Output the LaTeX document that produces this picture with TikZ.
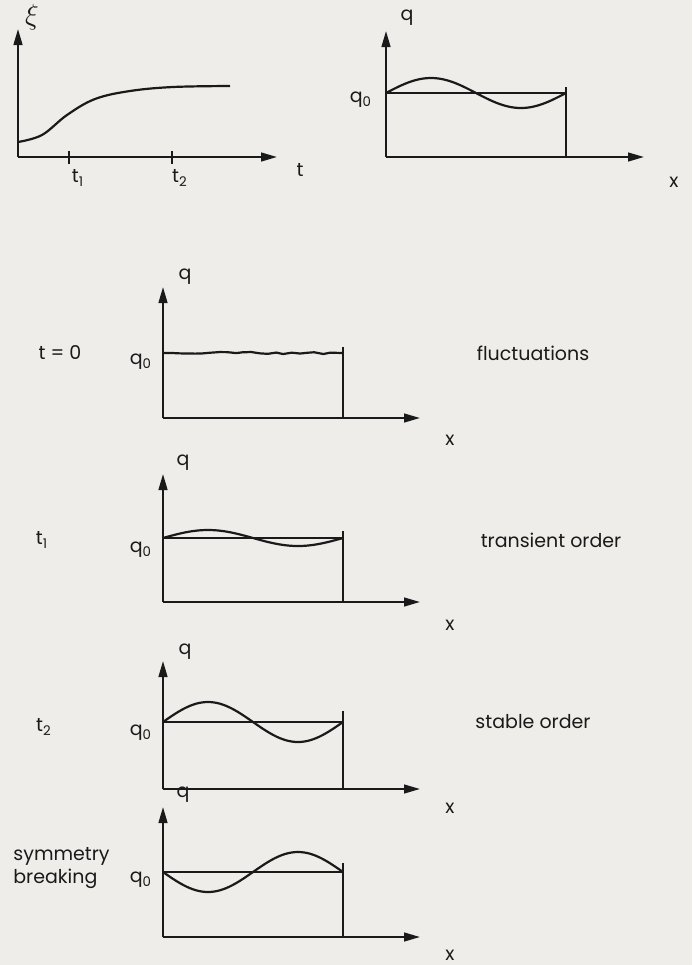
\documentclass[tikz,border=0pt]{standalone}
\usepackage{fontspec}
\setmainfont{Poppins}
\usetikzlibrary{arrows.meta,decorations.pathmorphing}
\definecolor{ink}{HTML}{1A1A1A}
\definecolor{paper}{HTML}{EFEDEA}

\begin{document}
\begin{tikzpicture}[
  x=0.5pt, y=-0.5pt,
  font=\fontsize{9.5}{11.5}\selectfont, >={Triangle[length=8pt,width=4.4pt]},
  axis/.style={->, draw=ink, line width=1pt},
  frame/.style={draw=ink, line width=0.7pt},
  wave/.style={draw=ink, line width=1.1pt},
  lbl/.style={text=ink, inner sep=0pt},
  tag/.style={text=ink, inner sep=0pt, align=left, anchor=west},
]
\fill[paper] (0,0) rectangle (692,965);
\useasboundingbox (0,0) rectangle (692,965);

% --- order parameter over time ---
\coordinate (o1) at (18,157);
\coordinate (xitop) at (18,29);
\coordinate (tend) at (277,157);
\draw[axis] (o1) -- (xitop);
\draw[axis] (o1) -- (tend);
\draw[draw=ink, line width=1.3pt] (69,151) -- (69,164);
\draw[draw=ink, line width=1.3pt] (172,151) -- (172,164);
\draw[wave] plot[smooth, tension=0.6] coordinates
  {(18,142) (42,135) (67,115) (95,99) (130,91) (173,87) (230,86)};
\node[lbl] (xi) at (32,17) {\Large$\xi$};
\node[lbl] (t1) at (78,178) {t\textsubscript{1}};
\node[lbl] (t2) at (180,178) {t\textsubscript{2}};
\node[lbl] (t) at (300,170) {t};

% --- mode profile q(x) ---
\coordinate (o2) at (386,157);
\coordinate (q2top) at (386,31);
\coordinate (x2end) at (644,157);
\draw[axis] (o2) -- (q2top);
\draw[axis] (o2) -- (x2end);
\draw[frame] (386,93) -- (566,93);
\draw[frame] (566,87) -- (566,157);
\draw[wave] plot[domain=0:180, samples=61] ({386+\x}, {93-15*sin(2*\x)});
\node[lbl] (q2) at (407,18) {q};
\node[lbl] (q02) at (361,100) {q\textsubscript{0}};
\node[lbl] (x2) at (674,182) {x};

% --- t = 0: fluctuations ---
\coordinate (o3) at (163,418);
\coordinate (q3top) at (163,287);
\coordinate (x3end) at (420,418);
\draw[axis] (o3) -- (q3top);
\draw[axis] (o3) -- (x3end);
\draw[frame] (343,347) -- (343,418);
\pgfmathsetseed{11}
\draw[wave, decorate, decoration={random steps, segment length=4pt, amplitude=0.6pt}]
  (163,353) -- (343,353);
\node[lbl] (q3) at (185,277) {q};
\node[lbl] (q03) at (141,362) {q\textsubscript{0}};
\node[lbl] (x3) at (450,440) {x};
\node[lbl] (s3) at (60,353) {t = 0};
\node[lbl] (n3) at (533,353) {fluctuations};

% --- t1: transient order ---
\coordinate (o4) at (163,602);
\coordinate (q4top) at (163,474);
\coordinate (x4end) at (420,602);
\draw[axis] (o4) -- (q4top);
\draw[axis] (o4) -- (x4end);
\draw[frame] (163,538) -- (343,538);
\draw[frame] (343,531) -- (343,602);
\draw[wave] plot[domain=0:180, samples=61] ({163+\x}, {538-8*sin(2*\x)});
\node[lbl] (q4) at (183,463) {q};
\node[lbl] (q04) at (141,550) {q\textsubscript{0}};
\node[lbl] (x4) at (450,625) {x};
\node[lbl] (s4) at (42,540) {t\textsubscript{1}};
\node[lbl] (n4) at (551,540) {transient order};

% --- t2: stable order ---
\coordinate (o5) at (163,789);
\coordinate (q5top) at (163,661);
\coordinate (x5end) at (420,789);
\draw[axis] (o5) -- (q5top);
\draw[axis] (o5) -- (x5end);
\draw[frame] (163,722) -- (343,722);
\draw[frame] (343,711) -- (343,789);
\draw[wave] plot[domain=0:180, samples=61] ({163+\x}, {722-20*sin(2*\x)});
\node[lbl] (q5) at (185,652) {q};
\node[lbl] (q05) at (141,733) {q\textsubscript{0}};
\node[lbl] (x5) at (450,808) {x};
\node[lbl] (s5) at (44,727) {t\textsubscript{2}};
\node[lbl] (n5) at (533,722) {stable order};

% --- symmetry breaking ---
\coordinate (o6) at (163,937);
\coordinate (q6top) at (163,807);
\coordinate (x6end) at (420,937);
\draw[axis] (o6) -- (q6top);
\draw[axis] (o6) -- (x6end);
\draw[frame] (163,872) -- (343,872);
\draw[frame] (343,863) -- (343,937);
\draw[wave] plot[domain=0:180, samples=61] ({163+\x}, {872+20*sin(2*\x)});
\node[lbl] (q6) at (183,795) {q};
\node[lbl] (q06) at (141,880) {q\textsubscript{0}};
\node[lbl] (x6) at (450,955) {x};
\node[tag] (s6) at (13,868) {symmetry\\breaking};
\end{tikzpicture}
\end{document}
